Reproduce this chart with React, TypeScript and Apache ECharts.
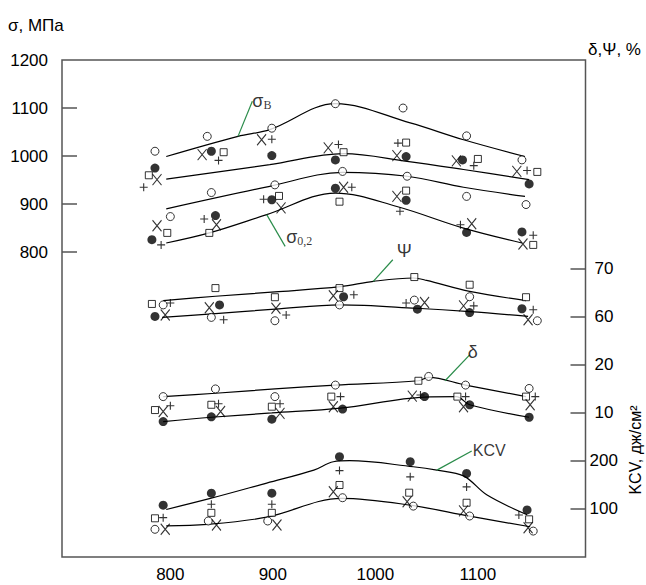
import React, { useEffect, useRef } from "react";
import * as echarts from "echarts";

const FONT = '"Liberation Sans", Arial, sans-serif';
const SERIF = '"Liberation Serif", "Times New Roman", serif';

// X axis (temperature) tick labels
const xTicks = [800, 900, 1000, 1100];
const sigmaTicks = [800, 900, 1000, 1100, 1200];
const psiTicks = [60, 70];
const deltaTicks = [10, 20];
const kcvTicks = [100, 200];

// ---- σ (MPa) group ----
const sigmaOpen = [[785,1010],[836,1041],[899,1058],[961,1109],[1027,1100],[1089,1042],[1143,992],
  [800,874],[840,924],[902,940],[968,968],[1031,958],[1089,916],[1147,899]];
const sigmaFilled = [[785,975],[840,1010],[899,1001],[961,992],[1030,999],[1085,992],[1150,942],
  [782,826],[844,876],[899,909],[961,933],[1030,908],[1089,841],[1143,842]];
const sigmaSquare = [[779,960],[852,1008],[969,1008],[1030,1028],[1100,994],[1158,967],
  [797,840],[838,840],[906,917],[965,905],[1030,928],[1154,815]];
const sigmaPlus = [[774,935],[847,991],[899,1035],[964,1024],[1022,1027],[1096,980],[1148,970],
  [791,815],[833,869],[891,910],[977,935],[1024,885],[1083,857],[1154,835]];
const sigmaX = [[787,951],[831,1003],[889,1034],[954,1017],[1021,1001],[1079,990],[1138,968],
  [787,855],[845,857],[908,892],[969,935],[1021,916],[1094,859],[1144,817]];
const sigmaB1 = [[796,999],[866,1041],[897,1055],[961,1109],[1034,1069],[1086,1034],[1146,999]];
const sigmaB2 = [[796,952],[897,982],[969,1005],[1031,989],[1086,972],[1150,951]];
const sigma02a = [[796,890],[897,937],[968,966],[1031,958],[1086,935],[1146,916]];
const sigma02b = [[796,819],[838,840],[894,878],[961,923],[1021,895],[1086,850],[1143,819]];

// ---- Ψ (%) group ----
const psiOpen = [[793,62.5],[840,59.9],[902,59.2],[965,62.5],[1038,63.5],[1092,64.2],[1158,59.2]];
const psiFilled = [[785,60.1],[848,62.5],[969,64.2],[1041,61.6],[1092,60.9],[1143,61.7]];
const psiSquare = [[782,62.7],[844,66.0],[902,64.1],[965,66.0],[1038,68.3],[1092,66.7],[1147,64.1]];
const psiPlus = [[800,62.9],[852,59.4],[913,60.4],[979,64.6],[1030,62.9],[1096,62.3],[1154,61.5]];
const psiX = [[795,60.4],[838,61.9],[903,61.8],[959,64.4],[1048,63.0],[1086,62.3],[1149,59.4]];
const psiUpper = [[793,63.4],[844,64.3],[902,65.2],[966,66.3],[998,67.4],[1037,68.1],[1050,67.6],[1092,65.3],[1147,63.4]];
const psiLower = [[792,59.9],[844,60.7],[902,61.6],[966,62.5],[1040,61.8],[1092,61.1],[1149,60.1]];

// ---- δ (%) group ----
const deltaOpen = [[793,13.4],[844,15.0],[902,13.4],[961,15.8],[1052,17.6],[1088,15.8],[1150,15.1]];
const deltaFilled = [[793,8.2],[840,9.2],[899,8.7],[968,10.8],[1048,13.4],[1092,11.7],[1150,9.1]];
const deltaSquare = [[785,10.6],[840,11.7],[899,11.3],[957,13.4],[1042,16.7],[1080,13.4],[1147,13.4]];
const deltaPlus = [[800,11.5],[847,11.9],[907,11.9],[966,13.4],[1044,13.75],[1088,13.4],[1156,13.4]];
const deltaX = [[793,10.3],[849,10.3],[907,9.9],[959,11.3],[1036,13.5],[1086,11.3],[1151,11.7]];
const deltaUpper = [[793,13.4],[844,14.1],[902,15.0],[961,15.8],[1042,16.7],[1052,17.4],[1088,15.8],[1147,13.4]];
const deltaLower = [[793,8.2],[840,9.1],[899,10.0],[966,11.0],[1048,13.3],[1079,13.4],[1092,11.7],[1150,9.1]];

// ---- KCV (J/cm²) group ----
const kcvOpen = [[785,57.7],[837,75],[895,75],[968,123.5],[1037,106],[1092,85.4],[1154,54]];
const kcvFilled = [[793,108],[840,133],[899,133],[965,209],[1034,198.5],[1089,174],[1148,98]];
const kcvSquare = [[785,80.6],[840,92],[899,92],[965,150],[1033,134],[1089,113],[1150,78.5]];
const kcvPlus = [[793,82],[840,110],[899,110],[965,180],[1034,167],[1089,146],[1140,87.5]];
const kcvX = [[795,57.7],[845,66.7],[904,66.7],[959,136],[1031,115],[1086,96],[1149,61]];
const kcvUpper = [[796,99],[839,122],[894,154],[940,181],[959,198.5],[975,200.6],[1037,188],[1060,181],[1086,169],[1109,129],[1148,88]];
const kcvLower = [[796,65],[836,68],[894,83],[967,122],[1034,108],[1092,85],[1151,63]];

// ---- leader lines to curve labels ----
const leaderSigmaB = [[866,1041],[880,1114]];
const leaderSigma02 = [[894,878],[912,812]];
const leaderPsi = [[998,67.4],[1017,71.9]];
const leaderDelta = [[1068,16.7],[1092,22.1]];
const leaderKcv = [[1060,181],[1094,221]];

const MARKS: Record<string, any> = {
  open: { symbol: "circle", symbolSize: 8, itemStyle: { color: "#fff", borderColor: "#000", borderWidth: 1 } },
  filled: { symbol: "circle", symbolSize: 9, itemStyle: { color: "#000" } },
  square: { symbol: "rect", symbolSize: 7, itemStyle: { color: "#fff", borderColor: "#000", borderWidth: 1 } },
  plus: { symbol: "path://M5,0L5,10M0,5L10,5", symbolSize: 8, itemStyle: { color: "#000", borderColor: "#000", borderWidth: 1.1 } },
  x: { symbol: "path://M0,0L10,12M10,0L0,12", symbolSize: [9, 11], itemStyle: { color: "#000", borderColor: "#000", borderWidth: 1.1 } },
};

function scatter(kind: string, data: number[][], yAxisIndex: number) {
  return { type: "scatter", yAxisIndex, data, z: 5, silent: true, ...MARKS[kind] };
}
function curve(data: number[][], yAxisIndex: number) {
  return {
    type: "line", yAxisIndex, data, smooth: 0.35, showSymbol: false, symbol: "none", z: 3, silent: true,
    lineStyle: { color: "#000", width: 1.2 },
  };
}
function leader(data: number[][], yAxisIndex: number) {
  return {
    type: "line", yAxisIndex, z: 4, silent: true, symbol: "none", showSymbol: false,
    lineStyle: { color: "#2a8c4a", width: 1.2 },
    data,
  };
}
function leaderLabel(data: number[][], yAxisIndex: number, label: any) {
  return {
    type: "scatter", yAxisIndex, z: 6, silent: true, symbolSize: 0,
    data: [data[1]],
    label: { show: true, ...label },
  };
}

const plain = (v: number) => String(v);

function yAxisCommon(min: number, max: number, ticks: number[], position: string, margin: number, tickVals: number[]) {
  return {
    type: "value", min, max, position,
    axisLine: { show: false },
    splitLine: { show: false },
    axisTick: { show: true, inside: true, length: 15, customValues: tickVals, lineStyle: { color: "#555", width: 1.5 } },
    axisLabel: { customValues: ticks, formatter: plain, fontSize: 17, fontFamily: FONT, color: "#000", margin },
  };
}

export default function App() {
  const ref = useRef<HTMLDivElement>(null);
  useEffect(() => {
    if (!ref.current) return;
    const chart = echarts.init(ref.current, undefined, { renderer: "svg" });
    const subRich = {
      a: { fontSize: 18, fontFamily: FONT, color: "#000" },
      b: { fontSize: 12, fontFamily: SERIF, color: "#000", verticalAlign: "bottom", padding: [8, 0, 0, 0] },
    };
    const option: any = {
      animation: false,
      backgroundColor: "#fff",
      grid: { left: 62, top: 60, right: 60.5, bottom: 28, show: true, borderColor: "#555", borderWidth: 1.5 },
      xAxis: {
        type: "value", min: 694.3, max: 1205,
        axisLine: { show: false }, axisTick: { show: false }, splitLine: { show: false },
        axisLabel: { customValues: xTicks, formatter: plain, fontSize: 17, fontFamily: FONT, color: "#000", margin: 9 },
      },
      yAxis: [
        yAxisCommon(165.2, 1200, sigmaTicks, "left", 14, [800, 900, 1000, 1100]),
        yAxisCommon(10, 113.5, psiTicks, "right", 9, psiTicks),
        yAxisCommon(-20, 83.5, deltaTicks, "right", 9, deltaTicks),
        yAxisCommon(0, 1035.4, kcvTicks, "right", 4, kcvTicks),
      ],
      graphic: [
        { type: "text", x: 8, y: 25, style: { text: "σ, МПа", font: `17px ${FONT}`, fill: "#000", verticalAlign: "middle" } },
        { type: "text", x: 588, y: 49, style: { text: "δ,Ψ, %", font: `17px ${FONT}`, fill: "#000", verticalAlign: "middle" } },
        { type: "text", x: 635, y: 450, rotation: Math.PI / 2, style: { text: "KCV, дж/см²", font: `16px ${FONT}`, fill: "#000", align: "center", verticalAlign: "middle" } },
      ],
      series: [
        curve(sigmaB1, 0), curve(sigmaB2, 0), curve(sigma02a, 0), curve(sigma02b, 0),
        curve(psiUpper, 1), curve(psiLower, 1),
        curve(deltaUpper, 2), curve(deltaLower, 2),
        curve(kcvUpper, 3), curve(kcvLower, 3),
        leader(leaderSigmaB, 0), leader(leaderSigma02, 0), leader(leaderPsi, 1), leader(leaderDelta, 2), leader(leaderKcv, 3),
        leaderLabel(leaderSigmaB, 0, { position: "right", distance: 0, formatter: "{a|σ}{b|B}", rich: subRich }),
        leaderLabel(leaderSigma02, 0, { position: "right", distance: 1, offset: [0, -9], formatter: "{a|σ}{b|0,2}", rich: subRich }),
        leaderLabel(leaderPsi, 1, { position: "right", distance: 4, offset: [0, -9], formatter: "Ψ", fontSize: 18, fontFamily: FONT, color: "#000" }),
        leaderLabel(leaderDelta, 2, { position: "right", distance: 0, offset: [-2, -3], formatter: "δ", fontSize: 18, fontFamily: FONT, color: "#000" }),
        leaderLabel(leaderKcv, 3, { position: "right", distance: 1, formatter: "KCV", fontSize: 16, fontFamily: FONT, color: "#000" }),
        scatter("open", sigmaOpen, 0), scatter("filled", sigmaFilled, 0), scatter("square", sigmaSquare, 0),
        scatter("plus", sigmaPlus, 0), scatter("x", sigmaX, 0),
        scatter("open", psiOpen, 1), scatter("filled", psiFilled, 1), scatter("square", psiSquare, 1),
        scatter("plus", psiPlus, 1), scatter("x", psiX, 1),
        scatter("open", deltaOpen, 2), scatter("filled", deltaFilled, 2), scatter("square", deltaSquare, 2),
        scatter("plus", deltaPlus, 2), scatter("x", deltaX, 2),
        scatter("open", kcvOpen, 3), scatter("filled", kcvFilled, 3), scatter("square", kcvSquare, 3),
        scatter("plus", kcvPlus, 3), scatter("x", kcvX, 3),
      ],
    };
    chart.setOption(option);
    return () => chart.dispose();
  }, []);
  return <div ref={ref} style={{ position: "absolute", left: 0, top: 0, width: 646, height: 585 }} />;
}
